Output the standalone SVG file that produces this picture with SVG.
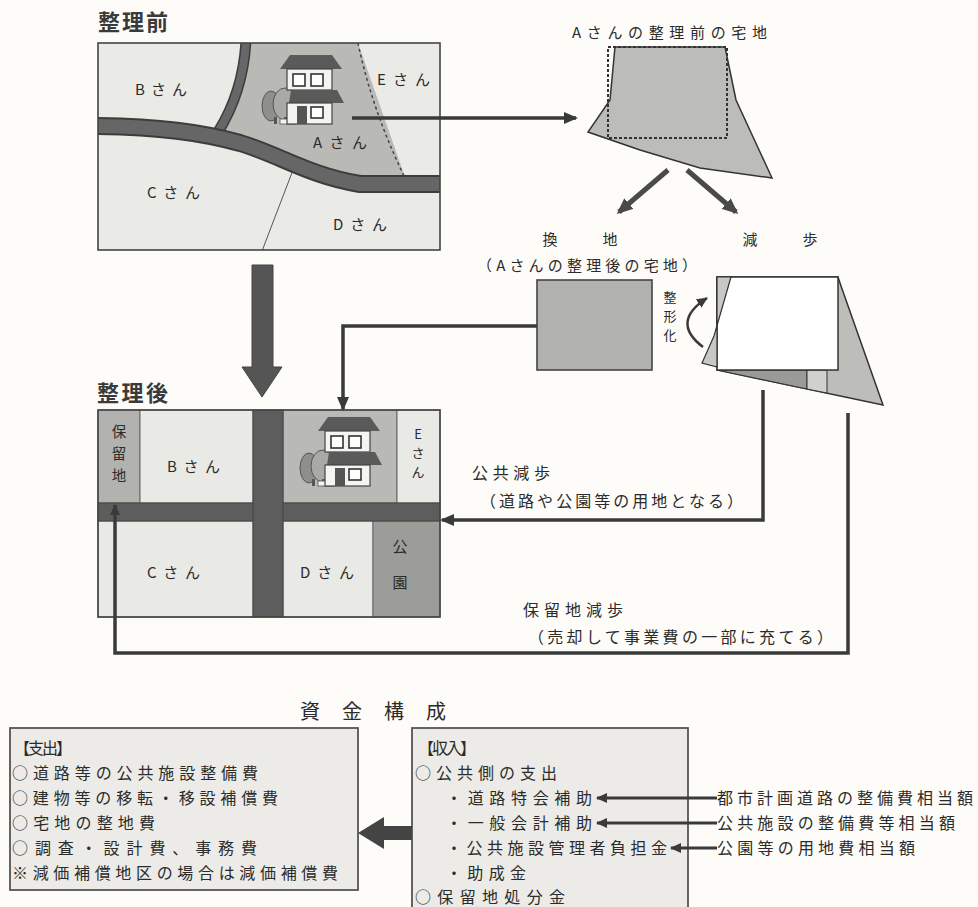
<svg xmlns="http://www.w3.org/2000/svg" xmlns:xlink="http://www.w3.org/1999/xlink" width="978" height="907" viewBox="0 0 978 907">
  <style>
    .t { font-family: "Noto Sans CJK JP", "Noto Sans", sans-serif; fill: #2b2b2b; }
    .s15 { font-size: 15px; }
    .s16 { font-size: 16px; }
    .title { font-size: 22px; font-weight: 700; fill: #3a3a3a; }
    .mid { text-anchor: middle; }
    .light { fill: #e9e9e5; stroke: #666; stroke-width: 1; }
    .plotA { fill: #b9b9b5; stroke: #666; stroke-width: 1; }
    .reserve { fill: #b2b2ae; stroke: #666; stroke-width: 1; }
    .park { fill: #9c9c98; stroke: #666; stroke-width: 1; }
    .road { fill: #5d5d5d; stroke: #444; stroke-width: 1; }
    .frame { fill: none; stroke: #444; stroke-width: 1.6; }
    .conn { fill: none; stroke: #3a3a3a; stroke-width: 3.5; }
    .thick { fill: none; stroke: #4a4a4a; stroke-width: 5; }
    .box { fill: #ecebe7; stroke: #555; stroke-width: 1.8; }
  </style>
  <defs>
    <marker id="head" markerUnits="userSpaceOnUse" markerWidth="14" markerHeight="12" refX="12" refY="6" orient="auto">
      <path d="M0,0 L14,6 L0,12 z" fill="#3a3a3a"/>
    </marker>
    <marker id="headBig" markerUnits="userSpaceOnUse" markerWidth="16" markerHeight="14" refX="13" refY="7" orient="auto">
      <path d="M0,0 L16,7 L0,14 z" fill="#4a4a4a"/>
    </marker>
    <marker id="headSmall" markerUnits="userSpaceOnUse" markerWidth="11" markerHeight="10" refX="10" refY="5" orient="auto">
      <path d="M0,0 L11,5 L0,10 z" fill="#3a3a3a"/>
    </marker>
    <clipPath id="beforeClip"><rect x="98" y="43" width="342" height="207"/></clipPath>
    <!-- house with tree, origin at the roof's top-left -->
    <g id="house">
      <ellipse cx="-9" cy="51" rx="9" ry="15" fill="#8e8e8a" stroke="#555" stroke-width="1"/>
      <ellipse cx="5" cy="49" rx="12" ry="16" fill="#a9a9a5" stroke="#555" stroke-width="1"/>
      <rect x="-6" y="62" width="3" height="7" fill="#555"/>
      <rect x="4" y="62" width="3" height="7" fill="#555"/>
      <rect x="0" y="64" width="16" height="5" fill="#f4f4f0" stroke="#555" stroke-width="0.8"/>
      <polygon points="10,0 52,0 62,14 0,14" fill="#5a5a5a"/>
      <rect x="7" y="14" width="45" height="21" fill="#f4f4f0" stroke="#444" stroke-width="1.2"/>
      <rect x="13" y="19" width="12" height="12" fill="#fff" stroke="#333" stroke-width="1.6"/>
      <rect x="31" y="19" width="12" height="12" fill="#fff" stroke="#333" stroke-width="1.6"/>
      <polygon points="11,35 57,35 64,48 9,48" fill="#5a5a5a"/>
      <rect x="7" y="48" width="45" height="21" fill="#f4f4f0" stroke="#444" stroke-width="1.2"/>
      <rect x="17" y="51" width="10" height="18" fill="#555"/>
      <rect x="31" y="52" width="12" height="11" fill="#fff" stroke="#333" stroke-width="1.6"/>
    </g>
  </defs>

  <rect x="0" y="0" width="978" height="907" fill="#fdfcf8"/>

  <!-- before readjustment -->
  <g id="before-map">
    <text class="t title" x="98" y="30" textLength="70">整理前</text>
    <rect x="98" y="43" width="342" height="207" fill="#eaeae6"/>
    <g clip-path="url(#beforeClip)">
      <polygon points="247,43 358,43 406,180 360,182 300,165 250,148 224,133 236,105" fill="#b9b9b5"/>
      <path d="M358,43 Q372,110 405,178" fill="none" stroke="#444" stroke-width="1.5" stroke-dasharray="3 3"/>
      <path d="M293,170 L262,251" fill="none" stroke="#555" stroke-width="1"/>
      <path d="M246,40 C244,80 233,108 218,132" fill="none" stroke="#3c3c3c" stroke-width="11"/>
      <path d="M246,40 C244,80 233,108 218,132" fill="none" stroke="#676767" stroke-width="8"/>
      <path d="M95,126 C160,127 200,132 240,143 C280,155 310,176 360,184 L445,184" fill="none" stroke="#3c3c3c" stroke-width="18"/>
      <path d="M95,126 C160,127 200,132 240,143 C280,155 310,176 360,184 L445,184" fill="none" stroke="#666" stroke-width="14"/>
      <use xlink:href="#house" href="#house" transform="translate(280,55)"/>
    </g>
    <rect class="frame" x="98" y="43" width="342" height="207"/>
    <text class="t s15" x="135" y="95" textLength="52">Bさん</text>
    <text class="t s15" x="377" y="85" textLength="53">Eさん</text>
    <text class="t s15" x="313" y="148" textLength="54">Aさん</text>
    <text class="t s15" x="147" y="198" textLength="53">Cさん</text>
    <text class="t s15" x="333" y="230" textLength="54">Dさん</text>
  </g>

  <!-- plot A before readjustment -->
  <g id="plot-before">
    <text class="t s15" x="572" y="38" textLength="195">Aさんの整理前の宅地</text>
    <polygon points="615,47 725,47 736,100 772,178 700,168 640,150 588,132 610,100" fill="#bcbcb8" stroke="#333" stroke-width="1.5"/>
    <rect x="608" y="47" width="119" height="91" fill="none" stroke="#333" stroke-width="2" stroke-dasharray="3 2"/>
  </g>

  <!-- replotted land -->
  <g id="replot">
    <text class="t s15 mid" x="550" y="245">換</text>
    <text class="t s15 mid" x="610" y="245">地</text>
    <text class="t s15" x="477" y="271" textLength="220">（Aさんの整理後の宅地）</text>
    <rect x="537" y="280" width="115" height="90" fill="#b1b1ad" stroke="#444" stroke-width="1.6"/>
  </g>

  <!-- land contribution -->
  <g id="reduction">
    <text class="t s15 mid" x="750" y="245">減</text>
    <text class="t s15 mid" x="810" y="245">歩</text>
    <text class="t mid" style="font-size:13px"><tspan x="670" y="302">整</tspan><tspan x="670" y="321">形</tspan><tspan x="670" y="340">化</tspan></text>
    <polygon points="717,277 838,277 841,286 883,405 717,370" fill="#bdbdb9" stroke="#333" stroke-width="1.5"/>
    <polygon points="717,370 807,370 807,389" fill="#9a9a96" stroke="#333" stroke-width="1"/>
    <polygon points="807,370 827,370 827,393 807,389" fill="#d0d0cc" stroke="#333" stroke-width="1"/>
    <rect x="717" y="277" width="121" height="93" fill="#ffffff" stroke="#333" stroke-width="1.5"/>
    <polygon points="717,277 731,277 714,336 702,363 717,367" fill="#c8c8c4" stroke="#333" stroke-width="1.2"/>
  </g>

  <!-- after readjustment -->
  <g id="after-map">
    <text class="t title" x="97" y="401" textLength="71">整理後</text>
    <rect class="reserve" x="98" y="410" width="42" height="93"/>
    <rect class="light" x="140" y="410" width="113" height="93"/>
    <rect class="plotA" x="283" y="410" width="114" height="93"/>
    <rect class="light" x="397" y="410" width="43" height="93"/>
    <rect class="light" x="98" y="521" width="155" height="96"/>
    <rect class="light" x="283" y="521" width="90" height="96"/>
    <rect class="park" x="373" y="521" width="67" height="96"/>
    <rect class="road" x="98" y="503" width="342" height="18"/>
    <rect class="road" x="253" y="410" width="30" height="207"/>
    <use xlink:href="#house" href="#house" transform="translate(318,417)"/>
    <rect class="frame" x="98" y="410" width="342" height="207"/>
    <text class="t mid" style="font-size:14.5px"><tspan x="119" y="437">保</tspan><tspan x="119" y="459">留</tspan><tspan x="119" y="481">地</tspan></text>
    <text class="t s15" x="167" y="472" textLength="53">Bさん</text>
    <text class="t mid" style="font-size:13px"><tspan x="418" y="439">E</tspan><tspan x="418" y="458">さ</tspan><tspan x="418" y="477">ん</tspan></text>
    <text class="t s15" x="147" y="578" textLength="53">Cさん</text>
    <text class="t s15" x="300" y="578" textLength="54">Dさん</text>
    <text class="t s15 mid"><tspan x="400" y="552">公</tspan><tspan x="400" y="588">園</tspan></text>
  </g>

  <!-- labels of the two contribution routes -->
  <g id="route-labels">
    <text class="t s16" x="472" y="479" textLength="78">公共減歩</text>
    <text class="t s16" x="480" y="507" textLength="263">（道路や公園等の用地となる）</text>
    <text class="t s16" x="523" y="616" textLength="100">保留地減歩</text>
    <text class="t s16" x="528" y="643" textLength="305">（売却して事業費の一部に充てる）</text>
  </g>

  <!-- financing -->
  <g id="finance-title">
    <text class="t mid" style="font-size:20px"><tspan x="310" y="719">資</tspan><tspan x="352" y="719">金</tspan><tspan x="394" y="719">構</tspan><tspan x="436" y="719">成</tspan></text>
  </g>

  <g id="expenditure">
    <rect class="box" x="10" y="728" width="348" height="162"/>
    <text class="t s16" x="14" y="754" textLength="58">【支出】</text>
    <text class="t s16" x="12" y="779" textLength="246">○道路等の公共施設整備費</text>
    <text class="t s16" x="12" y="804" textLength="266">○建物等の移転・移設補償費</text>
    <text class="t s16" x="12" y="829" textLength="143">○宅地の整地費</text>
    <text class="t s16" x="12" y="854" textLength="245">○調査・設計費、事務費</text>
    <text class="t s16" x="12" y="879" textLength="326">※減価補償地区の場合は減価補償費</text>
  </g>

  <g id="revenue">
    <rect class="box" x="412" y="728" width="276" height="200"/>
    <text class="t s16" x="418" y="754" textLength="58">【収入】</text>
    <text class="t s16" x="415" y="779" textLength="142">○公共側の支出</text>
    <text class="t s16" x="446" y="804" textLength="146">・道路特会補助</text>
    <text class="t s16" x="446" y="829" textLength="146">・一般会計補助</text>
    <text class="t s16" x="446" y="854" textLength="221">・公共施設管理者負担金</text>
    <text class="t s16" x="446" y="879" textLength="80">・助成金</text>
    <text class="t s16" x="415" y="903" textLength="150">○保留地処分金</text>
  </g>

  <g id="revenue-sources">
    <text class="t s16" x="717" y="804" textLength="256">都市計画道路の整備費相当額</text>
    <text class="t s16" x="717" y="829" textLength="238">公共施設の整備費等相当額</text>
    <text class="t s16" x="717" y="854" textLength="198">公園等の用地費相当額</text>
  </g>

  <g id="connectors">
    <line class="conn" x1="352" y1="118" x2="576" y2="118" marker-end="url(#head)"/>
    <line class="thick" x1="668" y1="170" x2="619" y2="212" marker-end="url(#headBig)"/>
    <line class="thick" x1="687" y1="170" x2="736" y2="212" marker-end="url(#headBig)"/>
    <path class="conn" d="M537,326 H343 V409" marker-end="url(#head)"/>
    <path class="conn" d="M763,390 V520 H442" marker-end="url(#head)"/>
    <path class="conn" d="M848,413 V653 H115 V505" marker-end="url(#headSmall)"/>
    <path d="M703,347 Q670,322 707,298" fill="none" stroke="#3a3a3a" stroke-width="2.5" marker-end="url(#headSmall)"/>
    <polygon points="252,265 273,265 273,367 282,367 262,397 242,367 252,367" fill="#555" stroke="#444" stroke-width="1"/>
    <polygon points="412,826 384,826 384,817 358,833 384,849 384,840 412,840" fill="#444"/>
    <line class="conn" style="stroke-width:3" x1="717" y1="798" x2="597" y2="798" marker-end="url(#headSmall)"/>
    <line class="conn" style="stroke-width:3" x1="717" y1="823" x2="597" y2="823" marker-end="url(#headSmall)"/>
    <line class="conn" style="stroke-width:3" x1="717" y1="848" x2="671" y2="848" marker-end="url(#headSmall)"/>
  </g>
</svg>
